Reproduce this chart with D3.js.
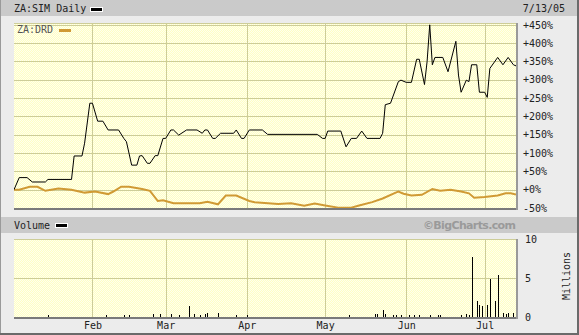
<!DOCTYPE html>
<html>
<head>
<meta charset="utf-8">
<script src="https://cdn.jsdelivr.net/npm/d3@7"></script>
<style>
  body { margin: 0; background: #ececec; }
  svg { display: block; }
  text { font-family: "DejaVu Sans Mono", monospace; font-size: 10px; }
</style>
</head>
<body>
<svg id="chart"></svg>
<script>
var width = 579;
var height = 335;

// ZA:SIM daily, % change since start
var simDates = ['2005-01-02','2005-01-04','2005-01-07','2005-01-09','2005-01-14','2005-01-15','2005-01-24','2005-01-25',
  '2005-01-28','2005-01-29','2005-01-31','2005-02-01','2005-02-03','2005-02-05','2005-02-07','2005-02-11','2005-02-13',
  '2005-02-14','2005-02-16','2005-02-18','2005-02-19','2005-02-20','2005-02-22','2005-02-23','2005-02-25','2005-02-26',
  '2005-02-28','2005-03-01','2005-03-03','2005-03-04','2005-03-06','2005-03-09','2005-03-13','2005-03-15','2005-03-16',
  '2005-03-17','2005-03-19','2005-03-20','2005-03-22','2005-03-27','2005-03-28','2005-03-30','2005-03-31','2005-04-02',
  '2005-04-07','2005-04-09','2005-04-28','2005-04-30','2005-05-01','2005-05-02','2005-05-07','2005-05-09','2005-05-11',
  '2005-05-13','2005-05-15','2005-05-17','2005-05-22','2005-05-23','2005-05-24','2005-05-26','2005-05-29','2005-05-30',
  '2005-06-01','2005-06-03','2005-06-05','2005-06-06','2005-06-08','2005-06-09','2005-06-10','2005-06-11','2005-06-12',
  '2005-06-15','2005-06-17','2005-06-20','2005-06-21','2005-06-22','2005-06-24','2005-06-25','2005-06-26','2005-06-28',
  '2005-06-29','2005-07-01','2005-07-02','2005-07-03','2005-07-06','2005-07-08','2005-07-10','2005-07-12','2005-07-13'];
var simPct = [0, 33, 33, 21, 21, 28, 28, 92,
  92, 127, 236, 236, 187, 187, 163, 163, 140,
  131, 67, 67, 92, 93, 72, 72, 93, 93,
  140, 140, 163, 163, 149, 163, 163, 154, 163,
  163, 140, 140, 154, 154, 163, 140, 140, 163,
  163, 151, 151, 140, 140, 160, 160, 117, 140,
  140, 160, 140, 140, 154, 232, 236, 295, 299,
  293, 293, 356, 356, 287, 350, 450, 341, 361,
  361, 322, 405, 313, 266, 299, 295, 341, 341,
  266, 266, 252, 331, 361, 341, 361, 341, 338];

// ZA:DRD, % change since start
var drdDates = ['2005-01-02','2005-01-04','2005-01-08','2005-01-11','2005-01-14','2005-01-19','2005-01-24','2005-01-29',
  '2005-02-02','2005-02-07','2005-02-09','2005-02-12','2005-02-15','2005-02-20','2005-02-23','2005-02-26','2005-02-28',
  '2005-03-04','2005-03-14','2005-03-17','2005-03-21','2005-03-24','2005-03-28','2005-04-02','2005-04-04','2005-04-13',
  '2005-04-18','2005-04-23','2005-04-27','2005-05-01','2005-05-06','2005-05-11','2005-05-14','2005-05-19','2005-05-23',
  '2005-05-28','2005-05-29','2005-05-31','2005-06-03','2005-06-07','2005-06-11','2005-06-14','2005-06-18','2005-06-22',
  '2005-06-25','2005-06-27','2005-07-01','2005-07-06','2005-07-09','2005-07-11','2005-07-13'];
var drdPct = [0, 0, 8, 8, -3, 3, 0, -8,
  -5, -12, -5, 8, 8, 2, -3, -31, -29,
  -37, -37, -33, -40, -16, -16, -31, -34, -39,
  -37, -44, -38, -43, -49, -49, -43, -34, -24,
  -8, -5, -11, -16, -14, 2, -3, 0, -5,
  -10, -22, -20, -16, -10, -10, -13];

// volume, millions
var volDates = ['2005-01-15','2005-02-06','2005-02-13','2005-02-15','2005-02-24','2005-02-27','2005-03-03','2005-03-06',
  '2005-03-10','2005-03-12','2005-03-14','2005-03-16','2005-03-17','2005-03-21','2005-03-28','2005-04-01','2005-05-10',
  '2005-05-20','2005-05-21','2005-05-23','2005-05-24','2005-05-27','2005-05-28','2005-05-30','2005-06-02','2005-06-04',
  '2005-06-06','2005-06-10','2005-06-13','2005-06-14','2005-06-22','2005-06-24','2005-06-25','2005-06-26','2005-06-28',
  '2005-06-29','2005-06-30','2005-07-02','2005-07-03','2005-07-05','2005-07-06','2005-07-08','2005-07-09','2005-07-10',
  '2005-07-12'];
var volMillions = [0.3, 0.3, 0.3, 0.3, 0.4, 0.4, 0.4, 0.2,
  1.4, 0.4, 0.3, 0.4, 0.5, 0.5, 0.2, 0.2, 0.2,
  0.4, 0.4, 0.9, 0.4, 0.2, 0.2, 0.2, 0.2, 0.2,
  0.2, 0.2, 0.3, 0.2, 0.2, 0.4, 0.3, 7.7, 2.0,
  1.5, 1.45, 1.55, 4.9, 2.0, 5.4, 0.5, 0.4, 0.5,
  0.5];

var pctTicks = [-50, 0, 50, 100, 150, 200, 250, 300, 350, 400, 450];
var volTicks = [0, 5, 10];
var monthTicks = ['2005-02-01','2005-03-01','2005-04-01','2005-05-01','2005-06-01','2005-07-01'];

var parse = d3.timeParse('%Y-%m-%d');
var sim = simDates.map((d, i) => ({date: parse(d), v: simPct[i]}));
var drd = drdDates.map((d, i) => ({date: parse(d), v: drdPct[i]}));
var vol = volDates.map((d, i) => ({date: parse(d), v: volMillions[i]}));
var months = monthTicks.map(parse);

var x = d3.scaleTime()
    .domain([new Date(2005, 0, 2), new Date(2005, 6, 13)])
    .range([14, 516]);
var y = d3.scaleLinear().domain([-50, 455]).range([208, 23]);
var yv = d3.scaleLinear().domain([0, 10]).range([317, 239]);

var gold = '#d09a34';
var gridColor = '#cdcd98';

var svg = d3.select('#chart')
    .attr('width', width)
    .attr('height', height)
    .attr('shape-rendering', 'crispEdges');

// dotted yellow fill
var pat = svg.append('defs').append('pattern')
    .attr('id', 'dots')
    .attr('width', 2).attr('height', 2)
    .attr('patternUnits', 'userSpaceOnUse');
pat.append('rect').attr('width', 2).attr('height', 2).attr('fill', '#ffffc4');
pat.append('rect').attr('width', 1).attr('height', 1).attr('fill', '#ffffee');
pat.append('rect').attr('x', 1).attr('y', 1).attr('width', 1).attr('height', 1).attr('fill', '#ffffee');

svg.append('clipPath').attr('id', 'clipTop')
  .append('rect').attr('x', 14).attr('y', 23).attr('width', 502).attr('height', 185);

svg.append('rect').attr('width', width).attr('height', height).attr('fill', '#ececec');

// header bands
svg.append('rect').attr('x', 0).attr('y', 0).attr('width', width).attr('height', 16).attr('fill', '#cacaca');
svg.append('rect').attr('x', 0).attr('y', 217).attr('width', width).attr('height', 16).attr('fill', '#cacaca');

svg.append('text').attr('x', 14).attr('y', 12).attr('fill', '#222').text('ZA:SIM Daily');
svg.append('rect').attr('x', 90.5).attr('y', 7.5).attr('width', 12).attr('height', 4)
    .attr('fill', '#000').attr('stroke', '#fff');
svg.append('text').attr('x', 565).attr('y', 12).attr('text-anchor', 'end').attr('fill', '#222').text('7/13/05');

svg.append('text').attr('x', 14).attr('y', 229).attr('fill', '#222').text('Volume');
svg.append('rect').attr('x', 55.5).attr('y', 223.5).attr('width', 12).attr('height', 4)
    .attr('fill', '#000').attr('stroke', '#fff');
svg.append('text').attr('x', 516).attr('y', 229).attr('text-anchor', 'end')
    .attr('fill', '#9a9a9a')
    .style('font-family', '"DejaVu Sans", sans-serif')
    .style('font-weight', 'bold')
    .style('font-size', '11px')
    .attr('textLength', 93)
    .text('\u00a9BigCharts.com');

// plot backgrounds
function panel(top, bottom) {
  svg.append('rect').attr('x', 14).attr('y', top).attr('width', 502).attr('height', bottom - top)
      .attr('fill', 'url(#dots)');
}
panel(23, 208);
panel(239, 317);

// gridlines
var grid = svg.append('g').attr('stroke', gridColor).attr('stroke-width', 1);
grid.selectAll('.hg')
    .data(pctTicks.filter(d => d > -50).concat([455]))
  .enter().append('line')
    .attr('x1', 14).attr('x2', 516)
    .attr('y1', d => Math.round(y(d)) + 0.5)
    .attr('y2', d => Math.round(y(d)) + 0.5);
grid.selectAll('.vhg')
    .data(volTicks.filter(d => d > 0))
  .enter().append('line')
    .attr('x1', 14).attr('x2', 516)
    .attr('y1', d => Math.round(yv(d)) + 0.5)
    .attr('y2', d => Math.round(yv(d)) + 0.5);
[[23, 208], [239, 317]].forEach(function(r) {
  grid.append('g').selectAll('line')
      .data(months)
    .enter().append('line')
      .attr('x1', d => Math.round(x(d)) + 0.5)
      .attr('x2', d => Math.round(x(d)) + 0.5)
      .attr('y1', r[0]).attr('y2', r[1]);
});

// frame shadows of the panels
[[23, 208], [239, 317]].forEach(function(r) {
  svg.append('rect').attr('x', 14).attr('y', r[1]).attr('width', 504).attr('height', 2).attr('fill', '#7a7a7a');
  svg.append('rect').attr('x', 516).attr('y', r[0]).attr('width', 2).attr('height', r[1] - r[0] + 2).attr('fill', '#9a9a9a');
});

// lines
var line = d3.line().x(d => x(d.date)).y(d => y(d.v));
var lines = svg.append('g').attr('clip-path', 'url(#clipTop)').attr('shape-rendering', 'auto');
lines.append('path').datum(drd)
    .attr('d', line).attr('fill', 'none').attr('stroke', gold).attr('stroke-width', 2);
lines.append('path').datum(sim)
    .attr('d', line).attr('fill', 'none').attr('stroke', '#000').attr('stroke-width', 1);

svg.append('text').attr('x', 17).attr('y', 33).attr('fill', '#555').text('ZA:DRD');
svg.append('rect').attr('x', 59).attr('y', 29).attr('width', 12).attr('height', 3).attr('fill', gold);

// volume bars
svg.append('g').selectAll('line')
    .data(vol)
  .enter().append('line')
    .attr('x1', d => Math.round(x(d.date)) + 0.5)
    .attr('x2', d => Math.round(x(d.date)) + 0.5)
    .attr('y1', yv(0))
    .attr('y2', d => yv(d.v))
    .attr('stroke', '#000');

// axes
var pctAxis = svg.append('g')
    .attr('transform', 'translate(516,0)')
    .call(d3.axisRight(y).tickValues(pctTicks)
        .tickFormat(d => (d >= 0 ? '+' : '') + d + '%')
        .tickSize(0).tickPadding(7));
var volAxis = svg.append('g')
    .attr('transform', 'translate(516,0)')
    .call(d3.axisRight(yv).tickValues(volTicks).tickFormat(d3.format('d'))
        .tickSize(0).tickPadding(9));
var monthAxis = svg.append('g')
    .attr('transform', 'translate(0,317)')
    .call(d3.axisBottom(x).tickValues(months).tickFormat(d3.timeFormat('%b'))
        .tickSize(0).tickPadding(5));
[pctAxis, volAxis, monthAxis].forEach(function(a) {
  a.select('.domain').remove();
  a.attr('font-family', null).attr('font-size', null);
  a.selectAll('text').attr('fill', '#222');
});

svg.append('text')
    .attr('transform', 'translate(570,276) rotate(-90)')
    .attr('text-anchor', 'middle')
    .attr('fill', '#222')
    .text('Millions');

// outer border
svg.append('rect').attr('x', 0).attr('y', 0).attr('width', 1).attr('height', height).attr('fill', '#9a9a9a');
svg.append('rect').attr('x', width - 2).attr('y', 0).attr('width', 2).attr('height', height).attr('fill', '#6a6a6a');
svg.append('rect').attr('x', 0).attr('y', height - 2).attr('width', width).attr('height', 2).attr('fill', '#6a6a6a');
</script>
</body>
</html>
